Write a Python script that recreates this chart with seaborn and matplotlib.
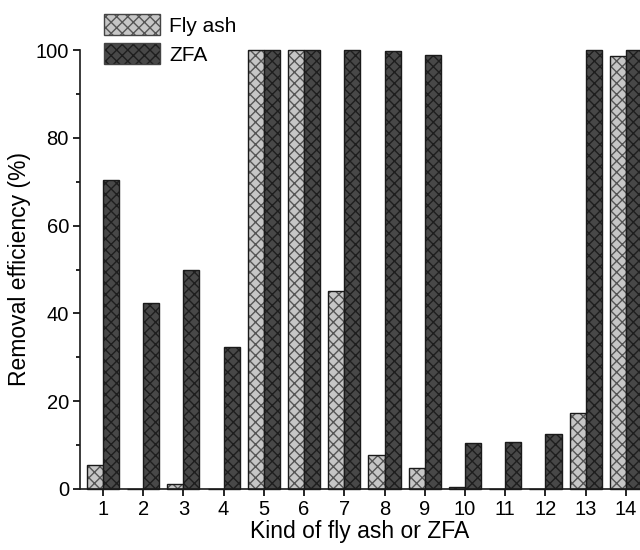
import pandas as pd
import seaborn as sns
import matplotlib.pyplot as plt
from matplotlib.colors import to_rgba
from matplotlib.patches import Patch
from matplotlib.ticker import MultipleLocator

## data
kinds = [str(i) for i in range(1, 15)]
fly_ash = [5.5, 0, 1.2, 0, 100, 100, 45, 7.7, 4.7, 0.4, 0, 0, 17.2, 98.6]
zfa = [70.5, 42.4, 50, 32.4, 100, 100, 100, 99.8, 98.8, 10.4, 10.8, 12.5, 100, 100]
series = ["Fly ash", "ZFA"]

df = pd.DataFrame({
    "Kind": kinds * 2,
    "Removal": fly_ash + zfa,
    "Material": [series[0]] * len(kinds) + [series[1]] * len(kinds),
})

sns.set_style("ticks")
plt.rcParams['font.family'] = ['Liberation Sans', 'DejaVu Sans']
plt.rcParams['hatch.linewidth'] = 1.0
plt.rcParams['text.color'] = 'black'
plt.rcParams['axes.labelcolor'] = 'black'
plt.rcParams['xtick.color'] = 'black'
plt.rcParams['ytick.color'] = 'black'

fig = plt.figure(figsize=(6.4, 5.5), dpi=100)
ax = fig.add_axes([0.125, 0.111, 0.875, 0.798])

faces = {"Fly ash": "#c6c6c6", "ZFA": "#484848"}
sns.barplot(data=df, x="Kind", y="Removal", hue="Material", order=kinds,
            palette=faces, width=0.8, edgecolor="#1a1a1a", linewidth=1.0,
            legend=False, ax=ax)

hatch_cols = {"Fly ash": "#555555", "ZFA": "#1e1e1e"}
for cont, name in zip(ax.containers, series):
    for bar in cont:
        bar.set_hatch("xxx")
        bar._hatch_color = to_rgba(hatch_cols[name])
        bar.set_clip_on(False)

ax.set_ylim(0, 100)
ax.set_xlim(-0.57, 13.35)
ax.yaxis.set_major_locator(MultipleLocator(20))
ax.yaxis.set_minor_locator(MultipleLocator(10))
ax.tick_params(axis="both", which="major", labelsize=14.5, length=5, width=1.2,
               direction="out", pad=3)
ax.tick_params(axis="y", which="minor", length=3, width=1.2)
ax.set_xlabel("Kind of fly ash or ZFA", fontsize=16.5, labelpad=1)
ax.set_ylabel("Removal efficiency (%)", fontsize=16.5, labelpad=3)
for s in ["top", "right"]:
    ax.spines[s].set_visible(False)
for s in ["left", "bottom"]:
    ax.spines[s].set_linewidth(1.2)
    ax.spines[s].set_color("#1a1a1a")

handles = [Patch(facecolor=faces[n], edgecolor="#444444", hatch="xxx", label=n) for n in series]
leg = fig.legend(handles=handles, loc="upper left", bbox_to_anchor=(0.15, 0.99),
                 frameon=False, fontsize=15, handlelength=2.65, handleheight=1.2,
                 handletextpad=0.45, labelspacing=0.35, borderaxespad=0)
for h, n in zip(leg.legend_handles, series):
    h._hatch_color = to_rgba(hatch_cols[n])

fig.savefig("out.png", dpi=100)
